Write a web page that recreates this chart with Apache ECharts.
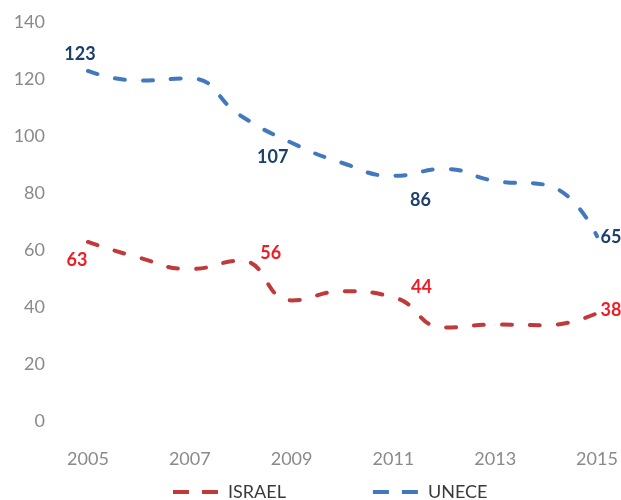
<!DOCTYPE html>
<html>
<head>
<meta charset="utf-8">
<style>html,body{margin:0;padding:0;background:#fff}#c{width:621px;height:500px}</style>
<script src="https://cdn.jsdelivr.net/npm/echarts@6/dist/echarts.min.js"></script>
</head>
<body>
<div id="c"></div>
<script>
var years = ['2005','2006','2007','2008','2009','2010','2011','2012','2013','2014','2015'];
var israel = [63, 57.5, 53.5, 56.4, 42.5, 45.7, 43.6, 33, 34, 33.8, 38];
var unece = [123, 119.6, 120.4, 107.3, 97.8, 90.7, 86.2, 88.6, 84.4, 83, 65];
var yTicks = [0, 20, 40, 60, 80, 100, 120, 140];
var labelledIdx = [0, 3, 6, 10];

var israelLabelOffsets = {0: [-11, 18], 3: [30, -8], 6: [28, -10], 10: [14, -3]};
var uneceLabelOffsets = {0: [-8, -17], 3: [32, 41], 6: [27, 24], 10: [14, 1]};

function buildData(vals, offsets, color) {
  return vals.map(function (v, i) {
    if (labelledIdx.indexOf(i) >= 0) {
      return {
        value: v,
        label: {
          show: true, position: 'inside', offset: offsets[i],
          formatter: function (p) { return Math.round(p.value); },
          color: color, fontFamily: 'Lato', fontWeight: 'bold', fontSize: 18
        }
      };
    }
    return { value: v, label: { show: false } };
  });
}

var chart = echarts.init(document.getElementById('c'), null, { renderer: 'canvas' });
var dashIcon = 'path://M0,0H16V4H0Z M29,0H45V4H29Z';
chart.setOption({
  animation: false,
  grid: { left: 88, right: 24, top: 22.5, bottom: 78.5 },
  xAxis: {
    type: 'category', data: years, boundaryGap: false,
    axisLine: { show: false }, axisTick: { show: false }, splitLine: { show: false },
    axisLabel: { interval: 1, color: '#8a8a8a', fontFamily: 'Lato', fontSize: 18, margin: 29 }
  },
  yAxis: {
    type: 'value', min: yTicks[0], max: yTicks[yTicks.length - 1], interval: 20,
    axisLine: { show: false }, axisTick: { show: false }, splitLine: { show: false },
    axisLabel: { color: '#8a8a8a', fontFamily: 'Lato', fontSize: 18, margin: 43 }
  },
  legend: {
    left: 168, top: 478, itemWidth: 45, itemHeight: 4, itemGap: 87,
    icon: dashIcon,
    textStyle: { color: '#3a3a3a', fontFamily: 'Lato', fontSize: 18, padding: [0, 0, 0, 5] },
    data: ['ISRAEL', 'UNECE']
  },
  series: [
    {
      name: 'ISRAEL', type: 'line', smooth: 0.5, symbol: 'circle', symbolSize: 0.5, showSymbol: true,
      itemStyle: { color: '#c0393b' },
      lineStyle: { color: '#c0393b', width: 4, type: [10, 18], cap: 'round' },
      emphasis: { disabled: true },
      data: buildData(israel, israelLabelOffsets, '#ee1c25')
    },
    {
      name: 'UNECE', type: 'line', smooth: 0.5, symbol: 'circle', symbolSize: 0.5, showSymbol: true,
      itemStyle: { color: '#4178be' },
      lineStyle: { color: '#4178be', width: 4, type: [10, 18], cap: 'round' },
      emphasis: { disabled: true },
      data: buildData(unece, uneceLabelOffsets, '#1c3f6e')
    }
  ]
});
</script>
</body>
</html>
